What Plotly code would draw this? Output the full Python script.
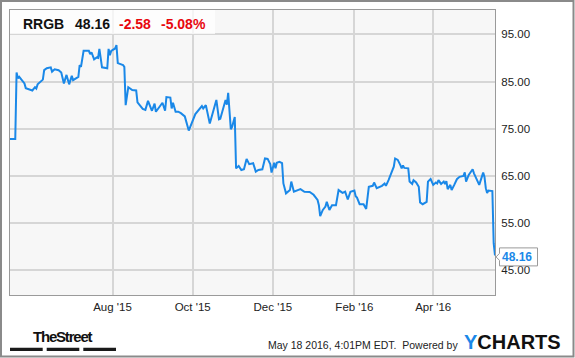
import plotly.graph_objects as go

# ---------------- data ----------------
dates = [
    "2015-05-15", "2015-05-19", "2015-05-20", "2015-05-21", "2015-05-22", "2015-05-23",
    "2015-05-25", "2015-05-26", "2015-05-27", "2015-05-30", "2015-06-01", "2015-06-03",
    "2015-06-04", "2015-06-05", "2015-06-07", "2015-06-09", "2015-06-10", "2015-06-12",
    "2015-06-15", "2015-06-16", "2015-06-18", "2015-06-21", "2015-06-23", "2015-06-25",
    "2015-06-27", "2015-06-29", "2015-07-01", "2015-07-02", "2015-07-06", "2015-07-07",
    "2015-07-08", "2015-07-10", "2015-07-14", "2015-07-15", "2015-07-16", "2015-07-18",
    "2015-07-20", "2015-07-21", "2015-07-22", "2015-07-24", "2015-07-28", "2015-07-29",
    "2015-07-30", "2015-07-31", "2015-08-03", "2015-08-04", "2015-08-05", "2015-08-09",
    "2015-08-10", "2015-08-11", "2015-08-13", "2015-08-16", "2015-08-19", "2015-08-20",
    "2015-08-24", "2015-08-26", "2015-08-28", "2015-08-31", "2015-09-02", "2015-09-03",
    "2015-09-08", "2015-09-10", "2015-09-11", "2015-09-14", "2015-09-15", "2015-09-16",
    "2015-09-18", "2015-09-20", "2015-09-22", "2015-09-25", "2015-09-28", "2015-09-30",
    "2015-10-03", "2015-10-08", "2015-10-09", "2015-10-11", "2015-10-14", "2015-10-19",
    "2015-10-21", "2015-10-22", "2015-10-26", "2015-10-27", "2015-10-28", "2015-10-30",
    "2015-10-31", "2015-11-02", "2015-11-03", "2015-11-05", "2015-11-07", "2015-11-09",
    "2015-11-11", "2015-11-13", "2015-11-16", "2015-11-18", "2015-11-20", "2015-11-23",
    "2015-11-25", "2015-11-27", "2015-11-29", "2015-11-30", "2015-12-02", "2015-12-03",
    "2015-12-04", "2015-12-06", "2015-12-08", "2015-12-09", "2015-12-11", "2015-12-14",
    "2015-12-15", "2015-12-17", "2015-12-22", "2015-12-25", "2015-12-29", "2016-01-01",
    "2016-01-04", "2016-01-05", "2016-01-06", "2016-01-08", "2016-01-10", "2016-01-11",
    "2016-01-13", "2016-01-15", "2016-01-18", "2016-01-20", "2016-01-23", "2016-01-25",
    "2016-01-27", "2016-01-29", "2016-02-01", "2016-02-02", "2016-02-03", "2016-02-05",
    "2016-02-08", "2016-02-10", "2016-02-12", "2016-02-15", "2016-02-16", "2016-02-18",
    "2016-02-22", "2016-02-24", "2016-02-25", "2016-02-27", "2016-02-28", "2016-03-02",
    "2016-03-03", "2016-03-05", "2016-03-07", "2016-03-08", "2016-03-09", "2016-03-10",
    "2016-03-13", "2016-03-14", "2016-03-16", "2016-03-17", "2016-03-19", "2016-03-21",
    "2016-03-22", "2016-03-24", "2016-03-27", "2016-03-28", "2016-03-30", "2016-04-01",
    "2016-04-03", "2016-04-04", "2016-04-05", "2016-04-07", "2016-04-09", "2016-04-10",
    "2016-04-11", "2016-04-12", "2016-04-14", "2016-04-15", "2016-04-17", "2016-04-19",
    "2016-04-21", "2016-04-24", "2016-04-25", "2016-04-26", "2016-04-28", "2016-05-01",
    "2016-05-02", "2016-05-05", "2016-05-06", "2016-05-09", "2016-05-10", "2016-05-11",
    "2016-05-12", "2016-05-13", "2016-05-16", "2016-05-17", "2016-05-18",
]
prices = [
    72.8, 72.8, 86.9, 85.7, 86.0, 85.7,
    85.0, 84.6, 83.6, 83.3, 83.1, 83.8,
    83.5, 84.4, 85.0, 85.4, 87.4, 87.8,
    88.0, 87.1, 87.6, 87.4, 86.9, 84.6,
    86.4, 84.4, 86.2, 85.3, 86.0, 88.5,
    88.1, 91.5, 91.5, 90.8, 91.2, 89.7,
    90.1, 90.0, 91.9, 88.0, 87.8, 91.9,
    90.6, 91.5, 92.0, 92.7, 88.9, 88.5,
    88.1, 80.0, 83.8, 83.2, 83.1, 80.6,
    79.2, 79.0, 80.9, 78.8, 80.3, 78.6,
    80.5, 78.8, 81.7, 81.6, 79.3, 80.5,
    78.6, 78.6, 78.3, 77.6, 74.6, 76.0,
    78.1, 79.8, 79.3, 80.0, 76.1, 81.1,
    77.0, 77.1, 81.1, 80.1, 82.6, 74.9,
    75.4, 77.5, 66.6, 67.1, 66.25, 66.4,
    68.6, 67.5, 67.7, 65.9, 66.25, 66.4,
    68.7, 68.6, 67.5, 65.7, 67.8, 66.6,
    67.8, 68.0, 67.7, 63.4, 61.3, 62.0,
    63.8, 61.65, 62.2, 61.65, 61.6, 61.0,
    59.9, 58.8, 56.5, 57.8, 58.5, 59.5,
    57.8, 58.8, 58.8, 62.0, 61.4, 61.65,
    60.0, 61.65, 61.9, 60.7, 60.4, 59.0,
    59.0, 58.0, 62.7, 62.9, 63.6, 62.4,
    62.9, 63.4, 62.9, 64.1, 64.8, 66.95,
    68.7, 68.4, 67.3, 66.6, 67.2, 66.7,
    66.6, 63.8, 63.3, 64.1, 63.6, 62.7,
    59.4, 59.0, 59.5, 63.8, 64.35, 63.1,
    63.6, 63.4, 64.1, 63.3, 63.8, 63.3,
    63.9, 62.2, 63.1, 62.0, 63.1, 64.3,
    64.8, 65.0, 65.75, 63.8, 65.2, 66.4,
    65.55, 63.4, 63.1, 65.7, 64.8, 62.4,
    61.4, 61.9, 61.8, 50.74, 48.16,
]
ticker = "RRGB"
last_price = 48.16
change = "-2.58"
change_pct = "-5.08%"
x_tickvals = ["2015-08-01", "2015-10-01", "2015-12-01", "2016-02-01", "2016-04-01"]
x_ticktext = ["Aug '15", "Oct '15", "Dec '15", "Feb '16", "Apr '16"]
y_tickvals = [45, 55, 65, 75, 85, 95]
y_ticktext = ["%.2f" % v for v in y_tickvals]
x_range = ["2015-05-15", "2016-05-18"]
y_range = [39.77, 100.15]
footer_text = "May 18 2016, 4:01PM EDT.  Powered by"

# ---------------- styles ----------------
BLUE = "#1a88e8"
RED = "#e8070e"
FONT = "Liberation Sans, Arial, sans-serif"
GRID = "#d6d6d6"
BORDER = "#9a9a9a"

fig = go.Figure()
fig.add_trace(go.Scatter(
    x=dates, y=prices, mode="lines",
    line=dict(color=BLUE, width=2), hoverinfo="skip", showlegend=False,
))

W, H = 575, 358
ML, MR, MT, MB = 10, 80, 10, 63
PW, PH = W - ML - MR, H - MT - MB


def px(xp):
    return (xp - ML) / PW


def py(yp):
    return (H - MB - yp) / PH


last_y_paper = (last_price - y_range[0]) / (y_range[1] - y_range[0])

shapes = [
    # outer frame
    dict(type="rect", xref="paper", yref="paper", x0=px(1), x1=px(573.5), y0=py(1), y1=py(356.5),
         line=dict(color="#8a8a8a", width=2), fillcolor="rgba(0,0,0,0)", layer="above"),
    # header box
    dict(type="rect", xref="paper", yref="paper", x0=0, x1=px(215), y0=py(34), y1=1,
         line=dict(width=0), fillcolor="rgba(255,255,255,0.72)", layer="above"),
    # TheStreet bars
    dict(type="rect", xref="paper", yref="paper", x0=px(10), x1=px(42.7), y0=py(351), y1=py(347.7),
         line=dict(width=0), fillcolor="#1a1a1a"),
    dict(type="rect", xref="paper", yref="paper", x0=px(46.7), x1=px(79.3), y0=py(351), y1=py(347.7),
         line=dict(width=0), fillcolor="#1a1a1a"),
    dict(type="rect", xref="paper", yref="paper", x0=px(83.3), x1=px(116), y0=py(351), y1=py(347.7),
         line=dict(width=0), fillcolor="#1a1a1a"),
    # last price callout
    dict(type="path", xref="paper", yref="paper", xsizemode="pixel", ysizemode="pixel",
         xanchor=1, yanchor=last_y_paper,
         path="M 1,-1.5 L 4.5,2 L 4.5,7.5 L 42.5,7.5 L 42.5,-10.5 L 4.5,-10.5 L 4.5,-5 Z",
         line=dict(color="#9a9a9a", width=1), fillcolor="white", layer="above"),
]

annotations = [
    dict(text="<b>%s</b>" % ticker, x=px(20.5), y=py(23.5), xanchor="left", yanchor="middle",
         font=dict(family=FONT, size=14, color="#111")),
    dict(text="<b>%.2f</b>" % last_price, x=px(72.5), y=py(23.5), xanchor="left", yanchor="middle",
         font=dict(family=FONT, size=14, color="#111")),
    dict(text="<b>%s</b>" % change, x=px(116.5), y=py(23.5), xanchor="left", yanchor="middle",
         font=dict(family=FONT, size=14, color=RED)),
    dict(text="<b>%s</b>" % change_pct, x=px(158.5), y=py(23.5), xanchor="left", yanchor="middle",
         font=dict(family=FONT, size=14, color=RED)),
    dict(text="<b>%.2f</b>" % last_price, x=1, y=last_y_paper, xshift=22, yshift=-2,
         xanchor="center", yanchor="middle",
         font=dict(family=FONT, size=12, color=BLUE)),
    dict(text="<span style='letter-spacing:-1.2px'><b>TheStreet</b></span>", x=px(63), y=py(336),
         xanchor="center", yanchor="middle",
         font=dict(family=FONT, size=15, color="#111")),
    dict(text=footer_text, x=px(460), y=py(345), xanchor="right", yanchor="middle",
         font=dict(family=FONT, size=10.5, color="#222")),
    dict(text="<b><span style='color:%s'>Y</span>CHARTS</b>" % BLUE, x=px(462), y=py(342),
         xanchor="left", yanchor="middle",
         font=dict(family=FONT, size=20, color="#111")),
]
for a in annotations:
    a.update(xref="paper", yref="paper", showarrow=False)

fig.update_layout(
    width=W, height=H,
    margin=dict(l=ML, r=MR, t=MT, b=MB, pad=0),
    paper_bgcolor="white", plot_bgcolor="#f7f7f7",
    shapes=shapes, annotations=annotations,
    xaxis=dict(type="date", range=x_range, tickvals=x_tickvals, ticktext=x_ticktext,
               showgrid=True, gridcolor=GRID, gridwidth=1.5, zeroline=False,
               showline=True, mirror=True, linecolor=BORDER, linewidth=1,
               ticks="", ticklabelstandoff=1,
               tickfont=dict(family=FONT, size=11.5, color="#222")),
    yaxis=dict(side="right", range=y_range, tickvals=y_tickvals, ticktext=y_ticktext,
               showgrid=True, gridcolor=GRID, gridwidth=1.5, zeroline=False,
               showline=True, mirror=True, linecolor=BORDER, linewidth=1,
               ticks="", ticklabelstandoff=3,
               tickfont=dict(family=FONT, size=11.5, color="#222")),
    showlegend=False,
)

fig.write_html("out.html")
